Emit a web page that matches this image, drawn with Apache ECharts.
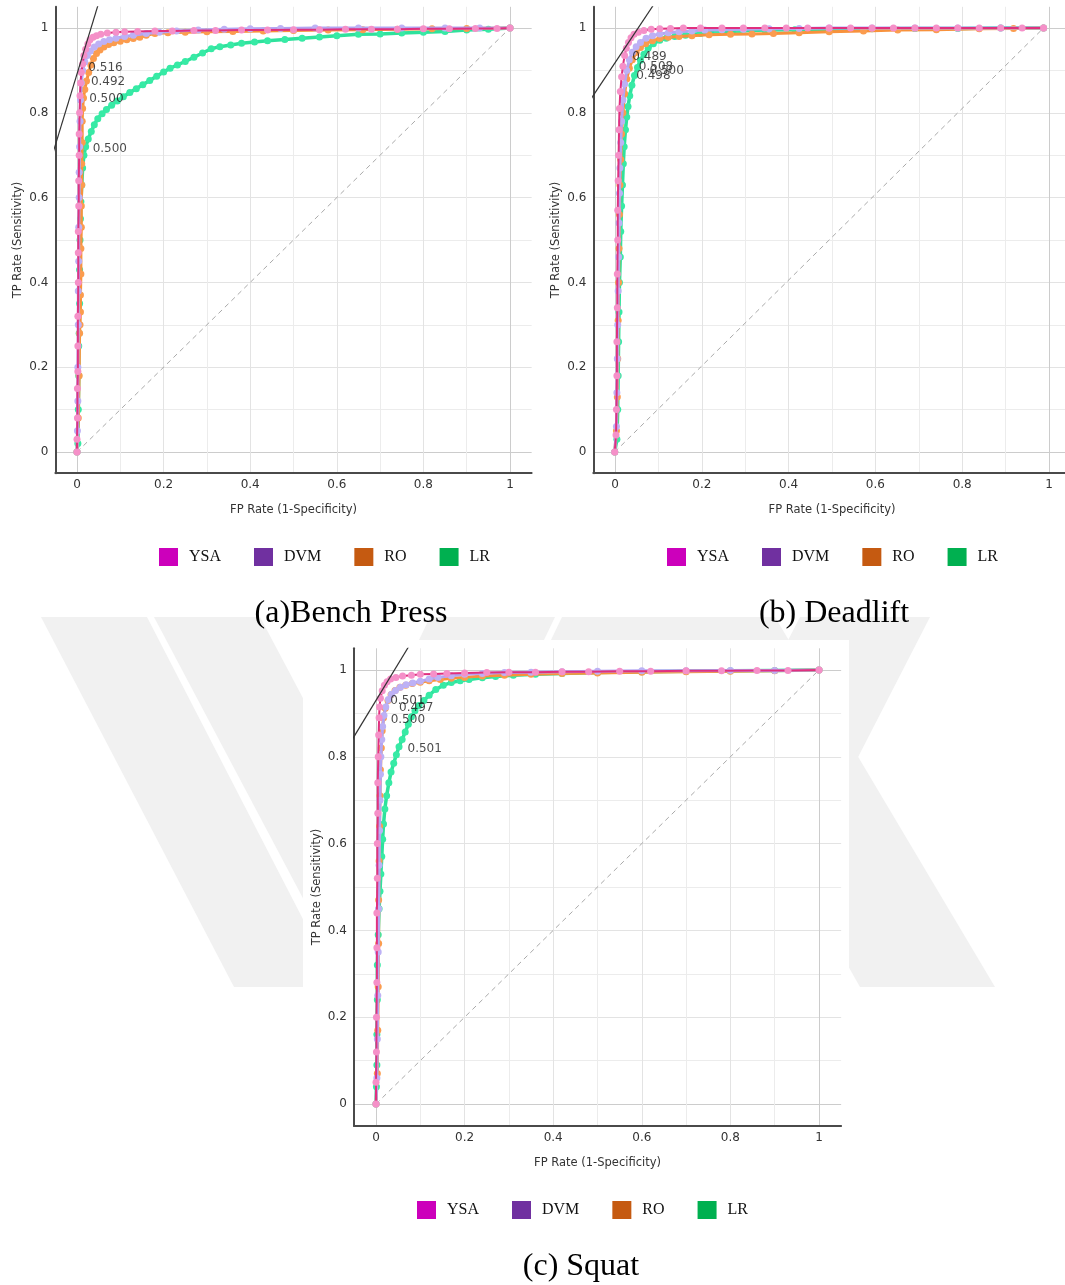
<!DOCTYPE html>
<html><head><meta charset="utf-8">
<script src="https://cdn.jsdelivr.net/npm/echarts@6/dist/echarts.min.js"></script>
<style>html,body{margin:0;padding:0;background:#fff}#c{width:1065px;height:1285px}</style>
</head><body><div id="c"></div>
<script>
// ---------------- DATA ----------------
const models = ['YSA', 'DVM', 'RO', 'LR'];
const captions = ['(a)Bench Press', '(b) Deadlift', '(c) Squat'];
const xTickLabels = ['0', '0.2', '0.4', '0.6', '0.8', '1'];
const yTickLabels = ['0', '0.2', '0.4', '0.6', '0.8', '1'];
const diagonal = [[0, 0], [1, 1]];

// (a) Bench Press
const benchYSA = [[0,0],[0,0.03],[0.001,0.08],[0.001,0.15],[0.002,0.19],[0.002,0.25],[0.002,0.32],[0.003,0.4],[0.003,0.47],[0.003,0.52],[0.004,0.58],[0.004,0.64],[0.005,0.7],[0.005,0.75],[0.006,0.8],[0.007,0.84],[0.008,0.87],[0.01,0.895],[0.013,0.915],[0.016,0.935],[0.02,0.95],[0.025,0.962],[0.03,0.972],[0.037,0.978],[0.045,0.982],[0.055,0.985],[0.07,0.988],[0.09,0.99],[0.11,0.991],[0.14,0.992],[0.18,0.993],[0.22,0.993],[0.27,0.994],[0.32,0.994],[0.38,0.995],[0.44,0.995],[0.5,0.996],[0.56,0.996],[0.62,0.997],[0.68,0.997],[0.74,0.997],[0.8,0.998],[0.86,0.998],[0.92,0.999],[0.97,0.999],[1,1]];
const benchDVM = [[0,0],[0.001,0.05],[0.002,0.12],[0.002,0.2],[0.003,0.3],[0.003,0.38],[0.004,0.45],[0.004,0.53],[0.005,0.6],[0.005,0.66],[0.006,0.72],[0.007,0.78],[0.008,0.83],[0.01,0.87],[0.013,0.9],[0.018,0.92],[0.024,0.935],[0.031,0.946],[0.04,0.955],[0.05,0.962],[0.062,0.968],[0.075,0.972],[0.09,0.976],[0.11,0.98],[0.13,0.983],[0.16,0.987],[0.19,0.99],[0.23,0.993],[0.28,0.995],[0.34,0.997],[0.4,0.998],[0.47,0.999],[0.55,1],[0.65,1],[0.75,1],[0.85,1],[0.93,1],[1,1]];
const benchRO = [[0,0],[0.003,0.08],[0.005,0.18],[0.006,0.28],[0.007,0.3],[0.008,0.33],[0.008,0.37],[0.009,0.42],[0.009,0.48],[0.01,0.53],[0.01,0.58],[0.011,0.63],[0.011,0.68],[0.012,0.73],[0.012,0.78],[0.013,0.81],[0.015,0.835],[0.018,0.855],[0.022,0.875],[0.027,0.895],[0.032,0.913],[0.038,0.928],[0.045,0.94],[0.053,0.948],[0.062,0.955],[0.073,0.961],[0.085,0.965],[0.1,0.969],[0.115,0.972],[0.13,0.975],[0.145,0.978],[0.16,0.983],[0.18,0.987],[0.21,0.989],[0.25,0.99],[0.3,0.991],[0.36,0.992],[0.43,0.993],[0.5,0.994],[0.58,0.995],[0.66,0.996],[0.74,0.997],[0.82,0.998],[0.9,0.999],[1,1]];
const benchLR = [[0,0],[0.002,0.02],[0.003,0.1],[0.004,0.18],[0.004,0.25],[0.005,0.28],[0.006,0.35],[0.006,0.43],[0.007,0.5],[0.008,0.55],[0.009,0.59],[0.011,0.63],[0.013,0.67],[0.016,0.7],[0.02,0.72],[0.026,0.738],[0.033,0.756],[0.04,0.772],[0.048,0.786],[0.058,0.798],[0.068,0.808],[0.08,0.818],[0.093,0.828],[0.107,0.838],[0.122,0.848],[0.137,0.857],[0.152,0.866],[0.168,0.876],[0.184,0.886],[0.2,0.896],[0.215,0.905],[0.232,0.913],[0.25,0.921],[0.27,0.931],[0.29,0.941],[0.31,0.951],[0.33,0.956],[0.355,0.96],[0.38,0.964],[0.41,0.967],[0.44,0.97],[0.48,0.973],[0.52,0.976],[0.56,0.979],[0.6,0.982],[0.65,0.985],[0.7,0.986],[0.75,0.988],[0.8,0.99],[0.85,0.992],[0.9,0.995],[0.95,0.997],[1,1]];
const benchThresholds = [[0.026,0.906,'0.516'],[0.032,0.873,'0.492'],[0.028,0.833,'0.500'],[0.036,0.716,'0.500']];
const benchIso = [[-0.1,0.5565],[0.1,1.2265]];

// (b) Deadlift
const deadYSA = [[0,0],[0.003,0.04],[0.004,0.1],[0.005,0.18],[0.005,0.26],[0.006,0.34],[0.006,0.42],[0.007,0.5],[0.007,0.57],[0.008,0.64],[0.009,0.7],[0.01,0.76],[0.011,0.81],[0.013,0.85],[0.016,0.885],[0.019,0.91],[0.023,0.935],[0.027,0.952],[0.032,0.966],[0.038,0.977],[0.045,0.985],[0.055,0.99],[0.068,0.994],[0.085,0.997],[0.105,0.998],[0.13,0.999],[0.16,1],[0.2,1],[0.25,1],[0.3,1],[0.35,1],[0.4,1],[0.45,1],[0.5,1],[0.55,1],[0.6,1],[0.65,1],[0.7,1],[0.75,1],[0.8,1],[0.85,1],[0.9,1],[0.95,1],[1,1]];
const deadDVM = [[0,0],[0.004,0.06],[0.005,0.14],[0.006,0.22],[0.007,0.3],[0.008,0.38],[0.009,0.46],[0.01,0.54],[0.011,0.61],[0.012,0.67],[0.014,0.73],[0.016,0.78],[0.019,0.83],[0.023,0.868],[0.028,0.9],[0.034,0.925],[0.041,0.943],[0.05,0.956],[0.06,0.966],[0.073,0.976],[0.088,0.982],[0.105,0.986],[0.125,0.989],[0.15,0.991],[0.18,0.993],[0.21,0.995],[0.25,0.996],[0.3,0.997],[0.36,0.998],[0.43,0.999],[0.5,1],[0.6,1],[0.7,1],[0.8,1],[0.9,1],[1,1]];
const deadRO = [[0,0],[0.004,0.05],[0.006,0.13],[0.007,0.22],[0.008,0.31],[0.009,0.4],[0.01,0.48],[0.011,0.56],[0.012,0.63],[0.014,0.69],[0.016,0.75],[0.019,0.8],[0.023,0.845],[0.028,0.88],[0.034,0.905],[0.041,0.925],[0.05,0.942],[0.06,0.954],[0.072,0.963],[0.088,0.97],[0.105,0.975],[0.125,0.978],[0.15,0.98],[0.18,0.982],[0.22,0.984],[0.27,0.985],[0.32,0.986],[0.37,0.987],[0.43,0.989],[0.5,0.991],[0.58,0.993],[0.66,0.995],[0.75,0.996],[0.85,0.998],[0.93,0.999],[1,1]];
const deadLR = [[0,0],[0.005,0.03],[0.007,0.1],[0.008,0.18],[0.009,0.26],[0.01,0.33],[0.011,0.4],[0.013,0.46],[0.014,0.52],[0.016,0.58],[0.018,0.63],[0.02,0.68],[0.022,0.72],[0.025,0.76],[0.028,0.79],[0.031,0.815],[0.035,0.84],[0.04,0.865],[0.046,0.888],[0.053,0.907],[0.06,0.924],[0.068,0.938],[0.078,0.952],[0.09,0.963],[0.105,0.971],[0.12,0.976],[0.14,0.98],[0.165,0.983],[0.2,0.987],[0.24,0.99],[0.29,0.993],[0.35,0.995],[0.42,0.996],[0.5,0.997],[0.6,0.998],[0.7,0.999],[0.8,0.999],[0.9,1],[1,1]];
const deadThresholds = [[0.041,0.931,'0.489'],[0.056,0.909,'0.508'],[0.081,0.899,'0.500'],[0.05,0.887,'0.498']];
const deadIso = [[-0.1,0.765],[0.1,1.069]];

// (c) Squat
const squatYSA = [[0,0],[0,0.05],[0.001,0.12],[0.001,0.2],[0.002,0.28],[0.002,0.36],[0.002,0.44],[0.003,0.52],[0.003,0.6],[0.004,0.67],[0.004,0.74],[0.005,0.8],[0.006,0.85],[0.007,0.89],[0.008,0.915],[0.01,0.935],[0.014,0.952],[0.019,0.965],[0.025,0.973],[0.033,0.979],[0.045,0.983],[0.06,0.986],[0.08,0.988],[0.1,0.99],[0.13,0.991],[0.16,0.992],[0.2,0.993],[0.25,0.994],[0.3,0.995],[0.36,0.995],[0.42,0.996],[0.48,0.996],[0.55,0.997],[0.62,0.997],[0.7,0.998],[0.78,0.998],[0.86,0.999],[0.93,0.999],[1,1]];
const squatDVM = [[0,0],[0.002,0.06],[0.003,0.15],[0.004,0.25],[0.005,0.35],[0.006,0.45],[0.007,0.55],[0.008,0.63],[0.009,0.7],[0.01,0.76],[0.011,0.8],[0.013,0.84],[0.015,0.87],[0.018,0.895],[0.022,0.915],[0.028,0.932],[0.035,0.944],[0.044,0.953],[0.055,0.96],[0.068,0.966],[0.083,0.97],[0.1,0.974],[0.12,0.979],[0.14,0.983],[0.17,0.987],[0.2,0.99],[0.24,0.992],[0.29,0.994],[0.35,0.995],[0.42,0.996],[0.5,0.997],[0.6,0.998],[0.7,0.998],[0.8,0.999],[0.9,0.999],[1,1]];
const squatRO = [[0,0],[0.003,0.07],[0.004,0.17],[0.005,0.27],[0.006,0.37],[0.006,0.47],[0.007,0.56],[0.008,0.64],[0.009,0.71],[0.01,0.77],[0.012,0.82],[0.014,0.86],[0.017,0.89],[0.021,0.912],[0.027,0.93],[0.034,0.943],[0.043,0.953],[0.054,0.96],[0.067,0.965],[0.082,0.969],[0.1,0.972],[0.12,0.975],[0.145,0.978],[0.17,0.981],[0.2,0.983],[0.24,0.986],[0.29,0.988],[0.35,0.99],[0.42,0.992],[0.5,0.993],[0.6,0.995],[0.7,0.996],[0.8,0.997],[0.9,0.998],[1,1]];
const squatLR = [[0,0],[0.001,0.04],[0.002,0.09],[0.002,0.16],[0.003,0.24],[0.003,0.32],[0.005,0.39],[0.007,0.45],[0.009,0.49],[0.011,0.53],[0.013,0.57],[0.015,0.61],[0.017,0.645],[0.02,0.68],[0.024,0.71],[0.029,0.74],[0.034,0.765],[0.04,0.785],[0.046,0.805],[0.052,0.823],[0.059,0.84],[0.066,0.857],[0.073,0.875],[0.08,0.892],[0.088,0.906],[0.097,0.918],[0.108,0.93],[0.12,0.942],[0.135,0.955],[0.152,0.965],[0.17,0.971],[0.19,0.975],[0.21,0.978],[0.24,0.982],[0.27,0.985],[0.31,0.988],[0.36,0.99],[0.42,0.992],[0.5,0.994],[0.6,0.996],[0.7,0.997],[0.8,0.998],[0.9,0.999],[1,1]];
const squatThresholds = [[0.032,0.929,'0.501'],[0.052,0.912,'0.497'],[0.033,0.885,'0.500'],[0.071,0.819,'0.501']];
const squatIso = [[-0.1,0.762],[0.1,1.098]];

// ---------------- STYLE / LAYOUT ----------------
const legendColors = {YSA:'#cc00bb', DVM:'#7030a0', RO:'#c55a11', LR:'#00b050'};
const markerColors = {YSA:'#f590c8', DVM:'#bdb1f5', RO:'#fb9c4e', LR:'#37eaa5'};
const lineColors = {YSA:'#e0307f', DVM:'#b3a5f2', RO:'#f8923c', LR:'#2ee29c'};
const lineWidths = {YSA:2, DVM:3, RO:3, LR:3.5};
const drawOrder = ['LR', 'RO', 'DVM', 'YSA'];

const panels = [
  {x0:77, sx:433, y1:28, sy:424, curves:{YSA:benchYSA, DVM:benchDVM, RO:benchRO, LR:benchLR}, thr:benchThresholds, iso:benchIso,
   legendLeft:159, legendTop:548, capX:351, capTop:598},
  {x0:615, sx:434, y1:28, sy:424, curves:{YSA:deadYSA, DVM:deadDVM, RO:deadRO, LR:deadLR}, thr:deadThresholds, iso:deadIso,
   legendLeft:667, legendTop:548, capX:834, capTop:598},
  {x0:376, sx:443, y1:670, sy:434, curves:{YSA:squatYSA, DVM:squatDVM, RO:squatRO, LR:squatLR}, thr:squatThresholds, iso:squatIso,
   legendLeft:417, legendTop:1201, capX:581, capTop:1251}
];

const SANS = 'DejaVu Sans';
const SERIF = 'Liberation Serif';
const grid = [], xAxis = [], yAxis = [], series = [], legend = [], title = [];
const majorColors = ['#cccccc','#e3e3e3','#e3e3e3','#e3e3e3','#e3e3e3','#cccccc'];

panels.forEach((p, i) => {
  const L = p.x0 - 0.05 * p.sx, W = 1.1 * p.sx, T = p.y1 - 0.05 * p.sy, H = 1.1 * p.sy;
  const g = i * 3;
  grid.push({left:L, top:T, width:W, height:H, containLabel:false});
  grid.push({left:p.x0, top:T, width:p.sx, height:H, containLabel:false});
  grid.push({left:L, top:p.y1, width:W, height:p.sy, containLabel:false});
  xAxis.push({gridIndex:g, type:'value', min:-0.05, max:1.05, axisLine:{show:true, onZero:false, lineStyle:{color:'#4a4a4a', width:2}},
    axisTick:{show:false}, axisLabel:{show:false}, splitLine:{show:false}});
  yAxis.push({gridIndex:g, type:'value', min:-0.05, max:1.05, axisLine:{show:true, onZero:false, lineStyle:{color:'#4a4a4a', width:2}},
    axisTick:{show:false}, axisLabel:{show:false}, splitLine:{show:false}});
  xAxis.push({gridIndex:g+1, type:'value', min:0, max:1, interval:0.2,
    axisLine:{show:false}, axisTick:{show:false},
    axisLabel:{show:true, margin:6, fontFamily:SANS, fontSize:12, color:'#333', formatter:(v, idx) => xTickLabels[idx]},
    splitLine:{show:true, lineStyle:{color:majorColors, width:1}},
    minorTick:{show:false, splitNumber:2}, minorSplitLine:{show:true, lineStyle:{color:'#ececec', width:1}},
    name:'FP Rate (1-Specificity)', nameLocation:'middle', nameGap:31,
    nameTextStyle:{fontFamily:SANS, fontSize:11.5, color:'#333'}});
  yAxis.push({gridIndex:g+1, type:'value', min:0, max:1, show:false});
  xAxis.push({gridIndex:g+2, type:'value', min:0, max:1, show:false});
  yAxis.push({gridIndex:g+2, type:'value', min:0, max:1, interval:0.2,
    axisLine:{show:false}, axisTick:{show:false},
    axisLabel:{show:true, margin:7, fontFamily:SANS, fontSize:12, color:'#333', formatter:(v, idx) => yTickLabels[idx]},
    splitLine:{show:true, lineStyle:{color:majorColors, width:1}},
    minorTick:{show:false, splitNumber:2}, minorSplitLine:{show:true, lineStyle:{color:'#ececec', width:1}},
    name:'TP Rate (Sensitivity)', nameLocation:'middle', nameGap:31,
    nameTextStyle:{fontFamily:SANS, fontSize:11.5, color:'#333'}});

  series.push({type:'line', xAxisIndex:g, yAxisIndex:g, data:diagonal, symbol:'none', silent:true, z:1,
    lineStyle:{color:'#aaaaaa', width:1, type:[5,4]}});
  drawOrder.forEach((m, k) => {
    series.push({type:'line', name:m, xAxisIndex:g, yAxisIndex:g, data:p.curves[m], z:2 + k,
      symbol:'circle', symbolSize:7, showSymbol:true,
      itemStyle:{color:markerColors[m]}, lineStyle:{color:lineColors[m], width:lineWidths[m]}});
  });
  series.push({type:'line', xAxisIndex:g, yAxisIndex:g, data:p.iso, symbol:'none', silent:true, z:8, clip:true,
    lineStyle:{color:'#333333', width:1.2}});
  series.push({type:'scatter', xAxisIndex:g, yAxisIndex:g, symbolSize:0.1, z:9, silent:true,
    data:p.thr.map(t => ({value:[t[0], t[1]], name:t[2]})),
    itemStyle:{color:'transparent'},
    label:{show:true, position:'right', distance:0, formatter:'{b}', fontFamily:SANS, fontSize:12, color:'#1a1a1a'}});

  legend.push({left:p.legendLeft, top:p.legendTop, padding:0, orient:'horizontal', icon:'rect', itemWidth:19, itemHeight:18, itemGap:33,
    selectedMode:false, itemStyle:{borderWidth:0},
    textStyle:{fontFamily:SERIF, fontSize:16, color:'#111', padding:[0,0,0,6]},
    data:models.map(m => ({name:m, itemStyle:{color:legendColors[m], borderWidth:0}}))});

  title.push({text:captions[i], left:p.capX, top:p.capTop, padding:0, textAlign:'center',
    textStyle:{fontFamily:SERIF, fontSize:32, fontWeight:'normal', color:'#000'}});
});

// faint background watermark (decoration behind the squat panel)
const wmColor = '#f1f1f1';
const graphic = [
  {type:'polygon', z:-3, silent:true, shape:{points:[[41,617],[147,617],[338,987],[234,987]]}, style:{fill:wmColor}},
  {type:'polygon', z:-3, silent:true, shape:{points:[[154,617],[260,617],[456,987],[350,987]]}, style:{fill:wmColor}},
  {type:'polygon', z:-3, silent:true, shape:{points:[[430,617],[555,617],[520,690],[395,690]]}, style:{fill:wmColor}},
  {type:'polygon', z:-3, silent:true, shape:{points:[[562,617],[690,617],[655,690],[527,690]]}, style:{fill:wmColor}},
  {type:'polygon', z:-3, silent:true, shape:{points:[[800,617],[930,617],[740,987],[610,987]]}, style:{fill:wmColor}},
  {type:'polygon', z:-3, silent:true, shape:{points:[[650,617],[775,617],[995,987],[860,987]]}, style:{fill:wmColor}},
  {type:'rect', z:-2, silent:true, shape:{x:303, y:640, width:546, height:545}, style:{fill:'#ffffff'}}
];

const chart = echarts.init(document.getElementById('c'), null, {renderer:'canvas'});
chart.setOption({
  backgroundColor:'#ffffff',
  animation:false,
  graphic, title, grid, xAxis, yAxis, series, legend
});
</script>
</body></html>
